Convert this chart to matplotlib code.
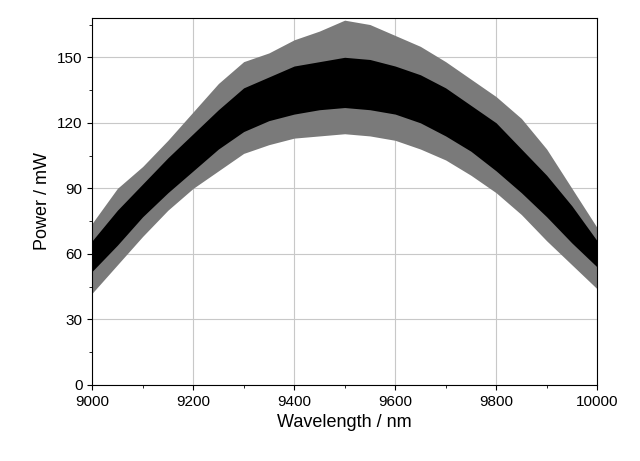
import matplotlib
matplotlib.use("Agg")
import matplotlib.pyplot as plt
plt.rcParams["font.family"] = "Liberation Sans"

wavelength = [9000, 9050, 9100, 9150, 9200, 9250, 9300, 9350, 9400, 9450, 9500,
              9550, 9600, 9650, 9700, 9750, 9800, 9850, 9900, 9950, 10000]
outer_low  = [42, 55, 68, 80, 90, 98, 106, 110, 113, 114, 115, 114, 112, 108, 103, 96, 88, 78, 66, 55, 44]
outer_high = [74, 90, 100, 112, 125, 138, 148, 152, 158, 162, 167, 165, 160, 155, 148, 140, 132, 122, 108, 90, 72]
core_low   = [52, 64, 77, 88, 98, 108, 116, 121, 124, 126, 127, 126, 124, 120, 114, 107, 98, 88, 77, 65, 54]
core_high  = [66, 80, 92, 104, 115, 126, 136, 141, 146, 148, 150, 149, 146, 142, 136, 128, 120, 108, 96, 82, 66]

fig = plt.figure(figsize=(6.4, 4.61), dpi=100)
ax = fig.add_axes([0.144, 0.165, 0.789, 0.796])
ax.fill_between(wavelength, outer_low, outer_high, color="#7a7a7a", lw=0)
ax.fill_between(wavelength, core_low, core_high, color="black", lw=0)
ax.set_xlim(9000, 10000)
ax.set_ylim(0, 168)
ax.set_xticks(range(9000, 10001, 200))
ax.set_yticks(range(0, 151, 30))
ax.set_xticks(range(9100, 10000, 200), minor=True)
ax.set_yticks(range(15, 168, 30), minor=True)
ax.grid(True, color="#c8c8c8", lw=0.8)
ax.set_axisbelow(True)
ax.tick_params(labelsize=11)
ax.set_xlabel("Wavelength / nm", fontsize=13)
ax.set_ylabel("Power / mW", fontsize=13)
fig.savefig("out.png")
